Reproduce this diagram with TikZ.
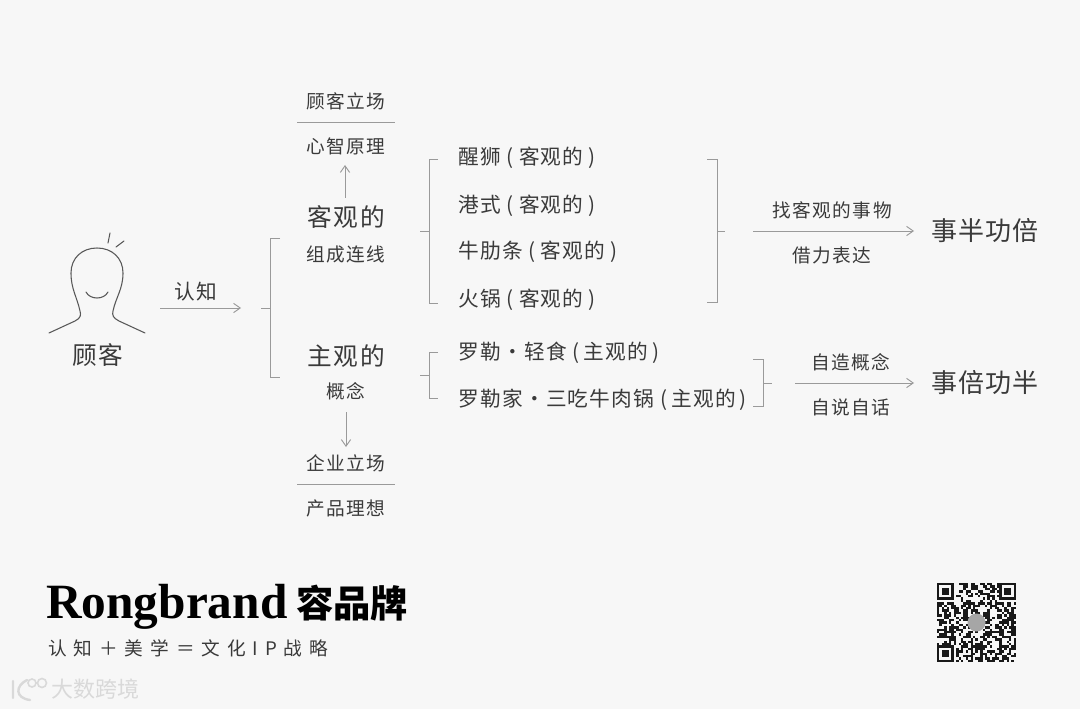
\documentclass[tikz,border=0pt]{standalone}
\usepackage{fontspec}
\setmainfont{Liberation Serif}
\newfontfamily\cjk[LetterSpace=8]{Noto Sans CJK SC}
\newfontfamily\cjkitem[LetterSpace=6]{Noto Sans CJK SC}
\newfontfamily\cjkbig[LetterSpace=7]{Noto Sans CJK SC}
\newfontfamily\cjkres[LetterSpace=4]{Noto Sans CJK SC}
\newfontfamily\cjkwide[LetterSpace=37]{Noto Sans CJK SC}
\newfontfamily\cjktight{Noto Sans CJK SC}
\usetikzlibrary{arrows.meta, positioning}
\definecolor{paper}{HTML}{F7F7F7}
\definecolor{ink}{HTML}{3A3A3A}
\definecolor{rule}{HTML}{9A9A9A}
\newcommand{\gapp}{\hspace{3pt}}
\newcommand{\gapo}{\hspace{4pt}}
\newcommand{\gapd}{\hspace{1pt}}
\tikzset{
    >={Straight Barb[length=5pt,width=7pt]},
    line/.style={draw=rule, line width=0.7pt},
    body/.style={draw=ink!85, line width=0.8pt, line cap=round},
    small/.style={text=ink, inner sep=0pt, font=\cjk\fontsize{14}{14}\selectfont},
    big/.style={text=ink, inner sep=0pt, font=\cjkbig\fontsize{18.5}{18.5}\selectfont},
    result/.style={text=ink, inner sep=0pt, font=\cjkres\fontsize{19.5}{19.5}\selectfont},
    item/.style={text=ink, inner sep=0pt, anchor=west, font=\cjkitem\fontsize{15.5}{15.5}\selectfont}
}

\begin{document}
\begin{tikzpicture}[x=0.75pt, y=-0.75pt]
    \fill[paper] (0,0) rectangle (1080,709);
    \useasboundingbox (0,0) rectangle (1080,709);

    % Person
    \draw[body] (49,333) -- (75,321) .. controls (81,318) and (81,315) .. (80,311)
        .. controls (77,297) and (71,289) .. (71,273) .. controls (71,258) and (82,248) .. (97,248)
        .. controls (112,248) and (123,258) .. (123,273) .. controls (123,289) and (116,297) .. (113,311)
        .. controls (112,315) and (113,318) .. (119,321) -- (145,333);
    \draw[body] (86,292) .. controls (90,300) and (104,300) .. (108,292);
    \draw[body] (110,233) -- (108,243);
    \draw[body] (124,241) -- (116,247);
    \node[big] (guest) at (98,355) {顾客};

    % Perception arrow
    \node[item, anchor=center] (perceive) at (196,292) {认知};
    \coordinate (arrA) at (160,308);
    \coordinate (arrB) at (241,308);
    \draw[line, ->] (arrA) -- (arrB);

    % First bracket
    \coordinate (stemA) at (261,308);
    \coordinate (stemB) at (270.5,308);
    \coordinate (topA) at (280,238);
    \coordinate (topB) at (270.5,238);
    \coordinate (botB) at (270.5,377);
    \coordinate (botA) at (280,377);
    \draw[line] (stemA) -- (stemB);
    \draw[line] (topA) -- (topB) -- (botB) -- (botA);

    % Objective column
    \node[small] (stance) at (346,101) {顾客立场};
    \coordinate (ruleA) at (297,122);
    \coordinate (ruleB) at (395,122);
    \draw[line] (ruleA) -- (ruleB);
    \node[small] (mind) at (346,146) {心智原理};
    \node[big] (obj) at (346,217) {客观的};
    \node[small] (parts) at (346,254) {组成连线};
    \coordinate (upA) at (345,198);
    \coordinate (upB) at (345,165);
    \draw[line, ->] (upA) -- (upB);

    % Subjective column
    \node[big] (subj) at (346,356) {主观的};
    \node[small] (idea) at (346,391) {概念};
    \coordinate (downA) at (346,412);
    \coordinate (downB) at (346,447);
    \draw[line, ->] (downA) -- (downB);
    \node[small] (firm) at (346,463) {企业立场};
    \coordinate (ruleC) at (297,484);
    \coordinate (ruleD) at (395,484);
    \draw[line] (ruleC) -- (ruleD);
    \node[small] (prod) at (346,508) {产品理想};

    % Objective items
    \node[item] (lion) at (458,158) {醒狮 (\gapo 客观的\gapo)};
    \node[item] (port) at (458,206) {港式 (\gapo 客观的\gapo)};
    \node[item] (beef) at (458,252) {牛肋条 (\gapo 客观的\gapo)};
    \node[item] (pot) at (458,300) {火锅 (\gapo 客观的\gapo)};

    \coordinate (objS) at (420,231);
    \coordinate (objM) at (429,231);
    \coordinate (objT) at (438,159);
    \coordinate (objTv) at (429,159);
    \coordinate (objBv) at (429,303);
    \coordinate (objB) at (438,303);
    \draw[line] (objS) -- (objM);
    \draw[line] (objT) -- (objTv) -- (objBv) -- (objB);

    \coordinate (outT) at (707,159);
    \coordinate (outTv) at (717,159);
    \coordinate (outBv) at (717,302);
    \coordinate (outB) at (707,302);
    \coordinate (outS) at (717,231);
    \coordinate (outE) at (725,231);
    \draw[line] (outT) -- (outTv) -- (outBv) -- (outB);
    \draw[line] (outS) -- (outE);

    % Subjective items
    \node[item] (light) at (458,353) {罗勒\gapd·\gapd 轻食 (\gapp 主观的\gapp)};
    \node[item] (home) at (458,400) {罗勒家\gapd·\gapd 三吃牛肉锅 (\gapp 主观的\gapp)};

    \coordinate (subS) at (420,375);
    \coordinate (subM) at (429,375);
    \coordinate (subT) at (438,352);
    \coordinate (subTv) at (429,352);
    \coordinate (subBv) at (429,398);
    \coordinate (subB) at (438,398);
    \draw[line] (subS) -- (subM);
    \draw[line] (subT) -- (subTv) -- (subBv) -- (subB);

    \coordinate (endT) at (753,359);
    \coordinate (endTv) at (763,359);
    \coordinate (endBv) at (763,406);
    \coordinate (endB) at (753,406);
    \coordinate (endS) at (763,383);
    \coordinate (endE) at (772,383);
    \draw[line] (endT) -- (endTv) -- (endBv) -- (endB);
    \draw[line] (endS) -- (endE);

    % Results
    \node[small] (find) at (832,210) {找客观的事物};
    \node[small] (borrow) at (832,255) {借力表达};
    \node[result] (half) at (985,231) {事半功倍};
    \coordinate (goA) at (753,231);
    \coordinate (goB) at (914,231);
    \draw[line, ->] (goA) -- (goB);

    \node[small] (make) at (851,362) {自造概念};
    \node[small] (talk) at (851,407) {自说自话};
    \node[result] (double) at (985,383) {事倍功半};
    \coordinate (stopA) at (795,383);
    \coordinate (stopB) at (914,383);
    \draw[line, ->] (stopA) -- (stopB);

    % Brand
    \node[anchor=base west, inner sep=0pt, text=black, font=\bfseries\fontsize{37}{37}\selectfont] (brand) at (46,618) {Rongbrand};
    \node[anchor=west, inner sep=0pt, text=black, font=\cjktight\bfseries\fontsize{28}{28}\selectfont] (brandcn) at (296,603) {容品牌};
    \node[anchor=west, inner sep=0pt, text=ink, font=\cjkwide\fontsize{14}{14}\selectfont] (slogan) at (48,648) {认知＋美学＝文化IP战略};

    % QR code
    \pgfmathsetseed{2718}
    \foreach \i in {0,...,32}{
        \foreach \j in {0,...,32}{
            \pgfmathrandominteger{\qrbit}{0}{99}
            \ifnum\qrbit<52
                \fill[black!90] ({937+\i*2.4},{583+\j*2.4}) rectangle ++(2.4,2.4);
            \fi
        }
    }
    \foreach \qx/\qy in {937/583, 999.2/583, 937/645.2}{
        \fill[paper] ({\qx-0.5},{\qy-0.5}) rectangle ++(19.8,19.8);
        \fill[black!90] (\qx,\qy) rectangle ++(16.8,16.8);
        \fill[paper] ({\qx+2.4},{\qy+2.4}) rectangle ++(12,12);
        \fill[black!90] ({\qx+4.8},{\qy+4.8}) rectangle ++(7.2,7.2);
    }
    \fill[black!35] (976.5,622.5) circle (9);

    % Watermark
    \draw[black!15, line width=1.8pt, line cap=round] (13,681) -- (13,698) (27,680) .. controls (15,686) and (15,698) .. (30,700);
    \draw[black!15, line width=1.2pt] (32,683) circle (4) (42,683) circle (4.5);
    \node[anchor=west, inner sep=0pt, text=black!15, font=\cjktight\fontsize{16.5}{16.5}\selectfont] (mark) at (51,689) {大数跨境};
\end{tikzpicture}
\end{document}
